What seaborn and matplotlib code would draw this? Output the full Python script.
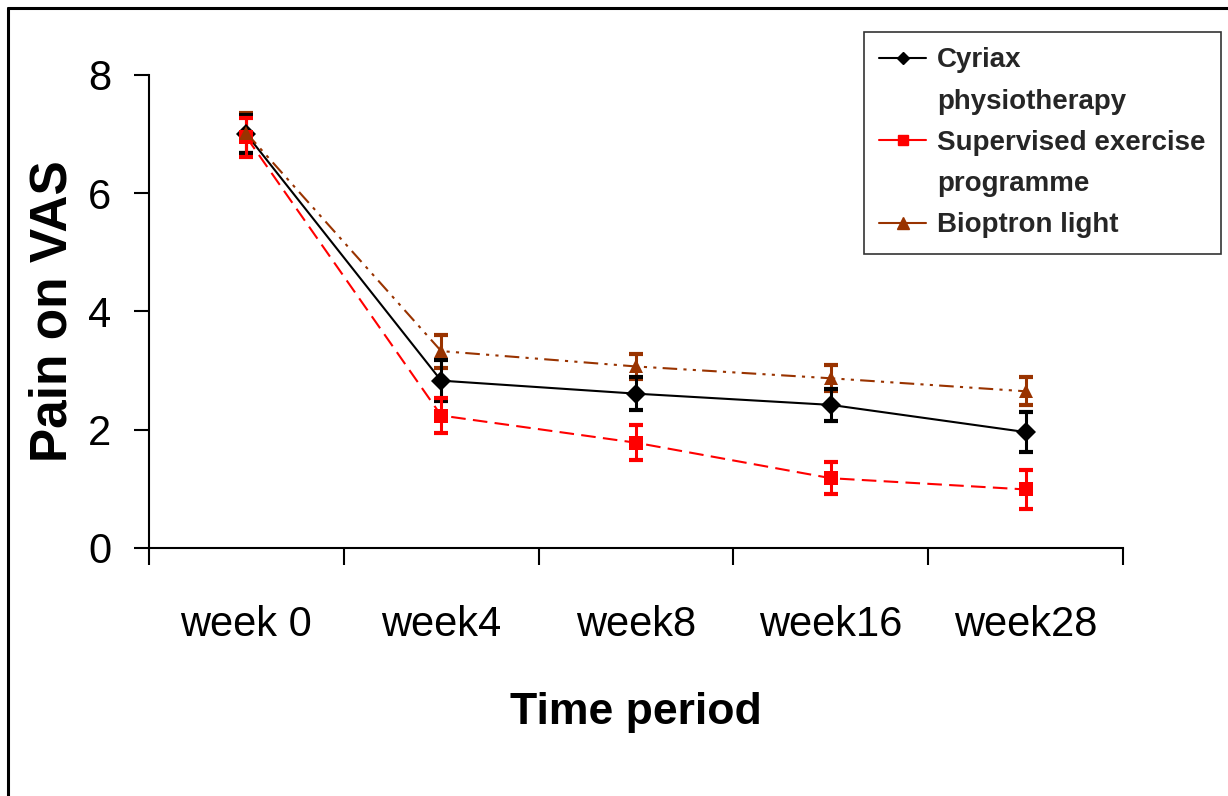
import numpy as np
import pandas as pd
import matplotlib.pyplot as plt
import seaborn as sns
from matplotlib.lines import Line2D

# data
weeks = ["week 0", "week4", "week8", "week16", "week28"]
groups = ["Cyriax physiotherapy", "Supervised exercise programme", "Bioptron light"]
cyriax = [7.00, 2.83, 2.61, 2.42, 1.96]
cyriax_err = [0.32, 0.35, 0.28, 0.27, 0.34]
supervised = [6.95, 2.24, 1.78, 1.18, 0.99]
supervised_err = [0.33, 0.30, 0.30, 0.27, 0.33]
bioptron = [7.02, 3.33, 3.07, 2.87, 2.65]
bioptron_err = [0.34, 0.28, 0.21, 0.22, 0.24]
colors = ["#000000", "#ff0000", "#993300"]

sns.set_theme(style="white")
plt.rcParams['font.family'] = ['Liberation Sans', 'DejaVu Sans']

df = pd.DataFrame({
    'week': weeks * 3,
    'pain': cyriax + supervised + bioptron,
    'group': [g for g in groups for _ in weeks],
})

fig = plt.figure(figsize=(12.28, 7.96), dpi=100)
ax = fig.add_axes([0.1213, 0.3116, 0.7932, 0.5942])

# error bars
for vals, err, col in [(bioptron, bioptron_err, colors[2]),
                       (cyriax, cyriax_err, colors[0]),
                       (supervised, supervised_err, colors[1])]:
    ax.errorbar(weeks, vals, yerr=err, fmt='none', ecolor=col,
                elinewidth=2.2, capsize=5, capthick=3, zorder=2)

sns.lineplot(data=df, x='week', y='pain', hue='group', style='group',
             hue_order=groups, style_order=groups,
             palette=dict(zip(groups, colors)),
             markers=dict(zip(groups, ['D', 's', '^'])),
             dashes=dict(zip(groups, ['', (7, 3.5), (7, 3, 1.5, 3, 1.5, 3)])),
             markersize=10, markeredgewidth=0, linewidth=1.5,
             sort=False, legend=False, ax=ax, zorder=3)

ax.set_xlim(-0.5, 4.5)
ax.set_ylim(0, 8)
ax.set_yticks([0, 2, 4, 6, 8])
ax.set_xticks(np.arange(-0.5, 4.6, 1))
ax.set_xticklabels([])
ax.set_xticks(range(5), labels=weeks, minor=True)
ax.tick_params(axis='x', which='major', length=12, width=1.5, direction='out',
               color='black', bottom=True)
ax.tick_params(axis='x', which='minor', length=0, pad=41, labelsize=30,
               bottom=True, labelcolor='black')
ax.tick_params(axis='y', length=11, width=1.5, direction='out', pad=16,
               labelsize=30, left=True, color='black', labelcolor='black')
sns.despine(ax=ax)
for s in ['left', 'bottom']:
    ax.spines[s].set_color('black')
    ax.spines[s].set_linewidth(1.5)

ax.set_xlabel('Time period', fontsize=32, fontweight='bold', labelpad=34, color='black')
ax.set_ylabel('Pain on VAS', fontsize=37, fontweight='bold', labelpad=8, color='black')

# legend: handle sits on first line of each label
blank = Line2D([], [], linestyle='none')
handles = [
    Line2D([], [], color=colors[0], lw=1.5, marker='D', ms=6),
    blank,
    Line2D([], [], color=colors[1], lw=1.5, marker='s', ms=7),
    blank,
    Line2D([], [], color=colors[2], lw=1.5, marker='^', ms=8),
]
labels = ['Cyriax', 'physiotherapy', 'Supervised exercise', 'programme', 'Bioptron light']
leg = ax.legend(handles, labels, loc='upper right',
                bbox_to_anchor=(1221 / 1228, 1 - 32 / 796),
                bbox_transform=fig.transFigure, borderaxespad=0,
                prop={'size': 20, 'weight': 'bold'}, frameon=True, fancybox=False,
                handlelength=1.7, handletextpad=0.4, labelspacing=0.55,
                borderpad=0.55)
leg.get_frame().set_edgecolor('black')
leg.get_frame().set_linewidth(1.2)

# figure border (left and top edges)
fig.add_artist(Line2D([8 / 1228, 8 / 1228], [0, 1 - 8 / 796],
                      transform=fig.transFigure, color='black', lw=2.2))
fig.add_artist(Line2D([8 / 1228, 1], [1 - 8 / 796, 1 - 8 / 796],
                      transform=fig.transFigure, color='black', lw=2.2))

fig.savefig('out.png', dpi=100)
